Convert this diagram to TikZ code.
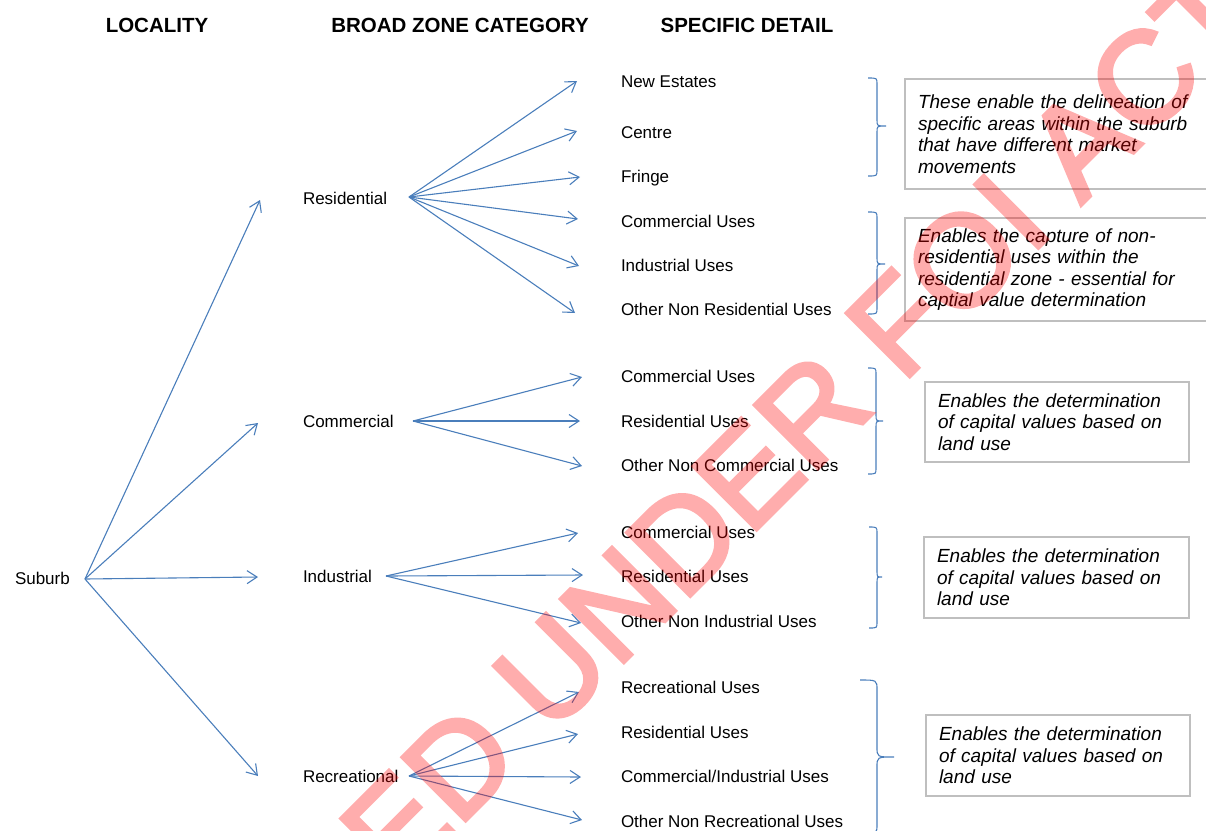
\documentclass[tikz,border=0pt]{standalone}
\usepackage{fontspec}
\setmainfont{Liberation Sans}
\newfontfamily\stampfont[FakeBold=3]{Liberation Sans}
\usetikzlibrary{arrows.meta}
\definecolor{link}{RGB}{74,126,187}
\definecolor{frame}{RGB}{191,191,191}

% right-hand bracket: x-left, x-spine, x-tip, y-top, y-mid, y-bottom, corner radius
\newcommand\rbrk[7]{%
  \draw[brk] (#1,#4) .. controls (#2,#4) .. (#2,#4+#7) -- (#2,#5-#7)
    .. controls (#2,#5) .. (#3,#5) .. controls (#2,#5) .. (#2,#5+#7)
    -- (#2,#6-#7) .. controls (#2,#6) .. (#1,#6);}

\begin{document}
\begin{tikzpicture}[x=1pt,y=-1pt,
  every node/.style={inner sep=0pt, outer sep=0pt},
  head/.style={font=\fontsize{20.5}{24}\selectfont\bfseries},
  lab/.style={anchor=base west, font=\fontsize{17}{20}\selectfont},
  arr/.style={draw=link, line width=1.1pt,
    -{Straight Barb[length=10pt,width=13pt]}},
  note/.style={draw=frame, line width=1.4pt, fill=white, align=left,
    anchor=west, inner xsep=13pt,
    font=\fontsize{19}{21.5}\selectfont\itshape},
  brk/.style={draw=link, line width=1.1pt},
  wm/.style={rotate=45, anchor=base west, text=red,
    font=\stampfont\fontsize{130}{132}\selectfont}]

\useasboundingbox (0,0) rectangle (1206,830);

% column headings
\node[head] (h1) at (157,25) {LOCALITY};
\node[head] (h2) at (460,25) {BROAD ZONE CATEGORY};
\node[head] (h3) at (747,25) {SPECIFIC DETAIL};

% locality and zone categories
\node[lab] (sub) at (15,584) {Suburb};
\node[lab] (res) at (303,204) {Residential};
\node[lab] (com) at (303,427) {Commercial};
\node[lab] (ind) at (303,582) {Industrial};
\node[lab] (rec) at (303,782) {Recreational};

\coordinate (sub-o) at (85,579);
\coordinate (res-o) at (409,197);
\coordinate (com-o) at (413,421);
\coordinate (ind-o) at (386,576);
\coordinate (rec-o) at (409,776);

\coordinate (res-i) at (260,200);
\coordinate (com-i) at (258,423);
\coordinate (ind-i) at (258,577);
\coordinate (rec-i) at (258,776);

% specific details
\node[lab] (r1) at (621,87)  {New Estates};
\node[lab] (r2) at (621,138) {Centre};
\node[lab] (r3) at (621,182) {Fringe};
\node[lab] (r4) at (621,227) {Commercial Uses};
\node[lab] (r5) at (621,271) {Industrial Uses};
\node[lab] (r6) at (621,315) {Other Non Residential Uses};

\node[lab] (c1) at (621,382) {Commercial Uses};
\node[lab] (c2) at (621,427) {Residential Uses};
\node[lab] (c3) at (621,471) {Other Non Commercial Uses};

\node[lab] (i1) at (621,538) {Commercial Uses};
\node[lab] (i2) at (621,582) {Residential Uses};
\node[lab] (i3) at (621,627) {Other Non Industrial Uses};

\node[lab] (e1) at (621,693) {Recreational Uses};
\node[lab] (e2) at (621,738) {Residential Uses};
\node[lab] (e3) at (621,782) {Commercial/Industrial Uses};
\node[lab] (e4) at (621,827) {Other Non Recreational Uses};

\coordinate (r1-i) at (577,81);
\coordinate (r2-i) at (577,131);
\coordinate (r3-i) at (580,177);
\coordinate (r4-i) at (578,219);
\coordinate (r5-i) at (579,266);
\coordinate (r6-i) at (575,313);
\coordinate (c1-i) at (582,377);
\coordinate (c2-i) at (580,421);
\coordinate (c3-i) at (582,466);
\coordinate (i1-i) at (578,533);
\coordinate (i2-i) at (583,575);
\coordinate (i3-i) at (581,623);
\coordinate (e1-i) at (579,692);
\coordinate (e2-i) at (578,734);
\coordinate (e3-i) at (581,777);
\coordinate (e4-i) at (582,820);

% arrows
\foreach \t in {res,com,ind,rec}
  \draw[arr] (sub-o) -- (\t-i);
\foreach \h/\t in {res/r1,res/r2,res/r3,res/r4,res/r5,res/r6,
                   com/c1,com/c2,com/c3,
                   ind/i1,ind/i2,ind/i3,
                   rec/e1,rec/e2,rec/e3,rec/e4}
  \draw[arr] (\h-o) -- (\t-i);

% brackets
\rbrk{868}{877}{886}{78}{126}{176}{6}
\rbrk{868}{877}{885}{212}{264}{314}{6}
\rbrk{868}{876}{883}{368}{421}{474}{6}
\rbrk{869}{877}{882}{527}{577}{628}{6}
\rbrk{860}{877}{894}{680}{757}{834}{10}

% notes
\node[note, text width=300pt, minimum height=110pt] (n1) at (905,134)
  {These enable the delineation of\\specific areas within the suburb\\that have different market\\movements};
\node[note, text width=300pt, minimum height=103pt] (n2) at (905,269.5)
  {Enables the capture of non-\\residential uses within the\\residential zone - essential for\\captial value determination};
\node[note, text width=238pt, minimum height=80pt] (n3) at (925,422)
  {Enables the determination\\of capital values based on\\land use};
\node[note, text width=239pt, minimum height=81pt] (n4) at (924,577.5)
  {Enables the determination\\of capital values based on\\land use};
\node[note, text width=238pt, minimum height=81pt] (n5) at (926,755.5)
  {Enables the determination\\of capital values based on\\land use};

% release stamp, laid over everything as one translucent layer
\begin{scope}[transparency group, opacity=0.32]
  \node[wm] (wm) at (34,1252) {RELEASED UNDER FOI ACT};
\end{scope}
\end{tikzpicture}
\end{document}
